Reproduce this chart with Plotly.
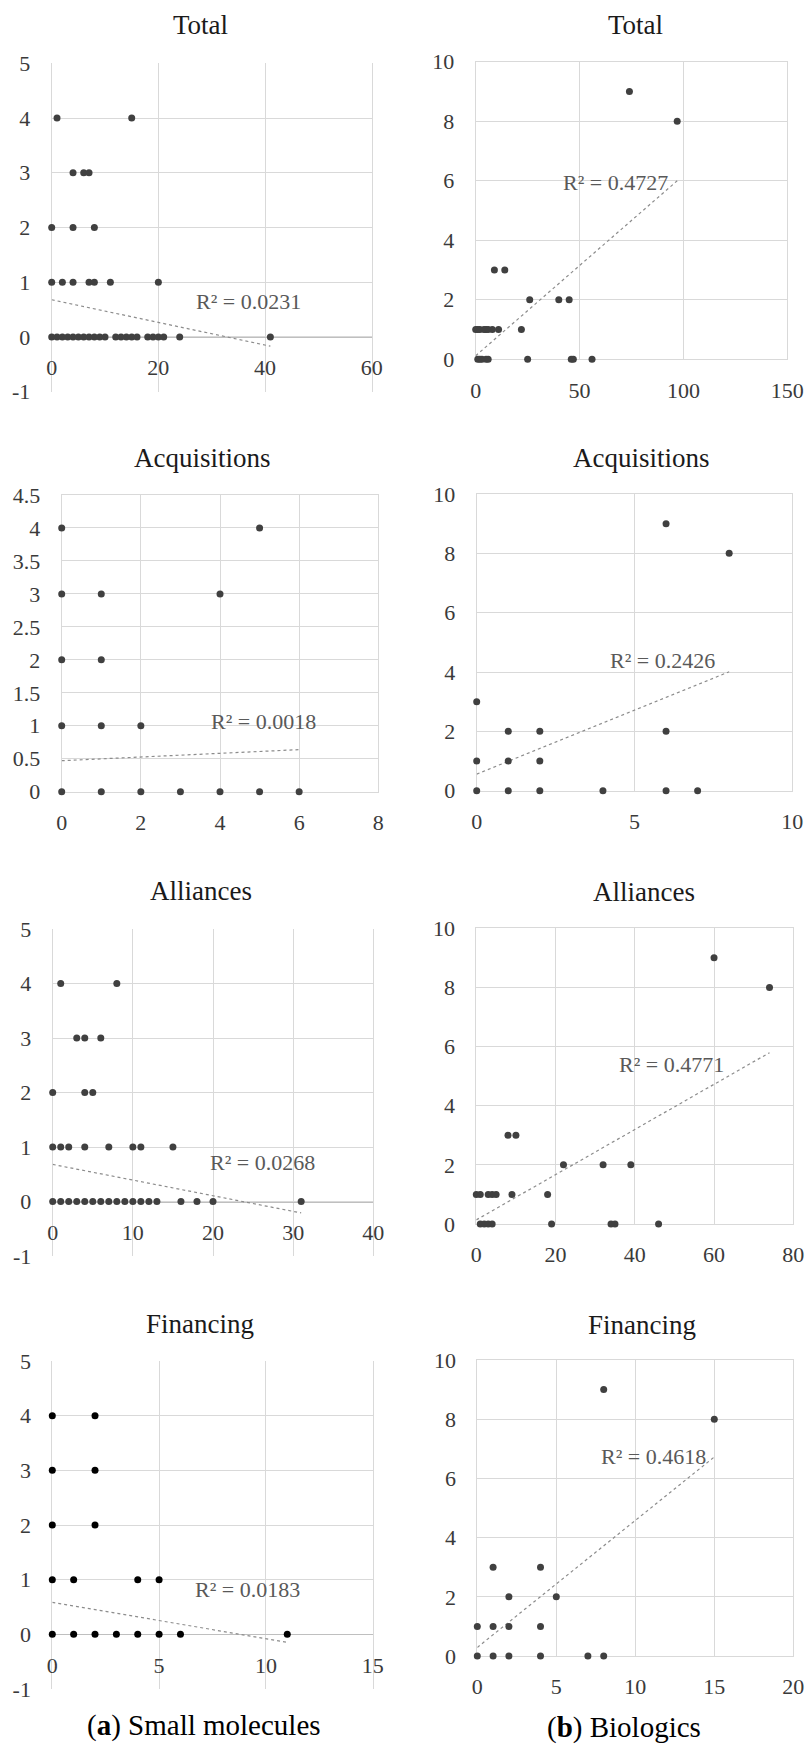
import plotly.graph_objects as go

W, H = 808, 1744

# ---------------- data ----------------
panel_titles = ["Total", "Total", "Acquisitions", "Acquisitions",
                "Alliances", "Alliances", "Financing", "Financing"]

sm_total_x = [1, 15, 4, 6, 7, 0, 4, 8, 0, 2, 4, 7, 8, 11, 20,
              0, 1, 2, 3, 4, 5, 6, 7, 8, 9, 10, 12, 13, 14, 15, 16, 18, 19, 20, 21, 24, 41]
sm_total_y = [4, 4, 3, 3, 3, 2, 2, 2, 1, 1, 1, 1, 1, 1, 1,
              0, 0, 0, 0, 0, 0, 0, 0, 0, 0, 0, 0, 0, 0, 0, 0, 0, 0, 0, 0, 0, 0]

bio_total_x = [74, 97, 9, 14, 26, 40, 45, 0, 1, 2, 4, 5, 6, 8, 11, 22,
               1, 2, 3, 5, 6, 25, 46, 47, 56]
bio_total_y = [9, 8, 3, 3, 2, 2, 2, 1, 1, 1, 1, 1, 1, 1, 1, 1,
               0, 0, 0, 0, 0, 0, 0, 0, 0]

sm_acq_x = [0, 5, 0, 1, 4, 0, 1, 0, 1, 2, 0, 1, 2, 3, 4, 5, 6]
sm_acq_y = [4, 4, 3, 3, 3, 2, 2, 1, 1, 1, 0, 0, 0, 0, 0, 0, 0]

bio_acq_x = [6, 8, 0, 1, 2, 6, 0, 1, 2, 0, 1, 2, 4, 6, 7]
bio_acq_y = [9, 8, 3, 2, 2, 2, 1, 1, 1, 0, 0, 0, 0, 0, 0]

sm_all_x = [1, 8, 3, 4, 6, 0, 4, 5, 0, 1, 2, 4, 7, 10, 11, 15,
            0, 1, 2, 3, 4, 5, 6, 7, 8, 9, 10, 11, 12, 13, 16, 18, 20, 31]
sm_all_y = [4, 4, 3, 3, 3, 2, 2, 2, 1, 1, 1, 1, 1, 1, 1, 1,
            0, 0, 0, 0, 0, 0, 0, 0, 0, 0, 0, 0, 0, 0, 0, 0, 0, 0]

bio_all_x = [60, 74, 8, 10, 22, 32, 39, 0, 1, 3, 4, 5, 9, 18,
             1, 2, 3, 4, 19, 34, 35, 46]
bio_all_y = [9, 8, 3, 3, 2, 2, 2, 1, 1, 1, 1, 1, 1, 1,
             0, 0, 0, 0, 0, 0, 0, 0]

sm_fin_x = [0, 2, 0, 2, 0, 2, 0, 1, 4, 5, 0, 1, 2, 3, 4, 5, 6, 11]
sm_fin_y = [4, 4, 3, 3, 2, 2, 1, 1, 1, 1, 0, 0, 0, 0, 0, 0, 0, 0]

bio_fin_x = [8, 15, 1, 4, 2, 5, 0, 1, 2, 4, 0, 1, 2, 4, 7, 8]
bio_fin_y = [9, 8, 3, 3, 2, 2, 1, 1, 1, 1, 0, 0, 0, 0, 0, 0]

# linear trend lines (intercept, slope, last x) and R² texts
trend_intercept = [0.68, 0.12, 0.47, 0.56, 0.68, 0.14, 0.585, 0.29]
trend_slope = [-0.0207, 0.0606, 0.028, 0.431, -0.0287, 0.0764, -0.0665, 0.429]
trend_xmax = [41, 97, 6, 8, 31, 74, 11, 15]
r2_texts = ["R² = 0.0231", "R² = 0.4727", "R² = 0.0018", "R² = 0.2426",
            "R² = 0.0268", "R² = 0.4771", "R² = 0.0183", "R² = 0.4618"]
r2_pos_x = [36.9, 67.4, 5.09, 5.88, 26.15, 49.3, 9.13, 11.14]
r2_pos_y = [0.64, 5.93, 1.06, 4.38, 0.71, 5.41, 0.82, 6.73]

x_ranges = [[0, 60], [0, 150], [0, 8], [0, 10], [0, 40], [0, 80], [0, 15], [0, 20]]
x_dticks = [20, 50, 2, 5, 10, 20, 5, 5]
y_ranges = [[-1, 5], [0, 10], [0, 4.5], [0, 10], [-1, 5], [0, 10], [-1, 5], [0, 10]]
y_dticks = [1, 2, 0.5, 2, 1, 2, 1, 2]

captions = ["(<b>a</b>) Small molecules", "(<b>b</b>) Biologics"]

series_x = [sm_total_x, bio_total_x, sm_acq_x, bio_acq_x, sm_all_x, bio_all_x, sm_fin_x, bio_fin_x]
series_y = [sm_total_y, bio_total_y, sm_acq_y, bio_acq_y, sm_all_y, bio_all_y, sm_fin_y, bio_fin_y]

# ---------------- layout (pixels) ----------------
plot_px = [  # left, right, top, bottom
    (51.7, 371.7, 63.3, 391.7),
    (475.7, 787.3, 61.7, 359.3),
    (61.7, 378.3, 495.0, 791.7),
    (476.7, 792.3, 494.0, 790.7),
    (52.7, 373.3, 929.0, 1256.0),
    (476.3, 793.3, 928.3, 1224.0),
    (52.3, 372.7, 1361.0, 1689.0),
    (477.3, 793.3, 1360.0, 1656.0),
]
title_px = [(200, 25), (635, 25), (202, 458), (641, 458),
            (201, 891), (644, 892), (200, 1324), (642, 1325)]
caption_px = [(204, 1725), (624, 1727)]
marker_colors = ["#404040"] * 6 + ["#000000", "#404040"]

FONT = "Liberation Serif"
GRID = "#d9d9d9"
TICKCOL = "#3a3a3a"


def tick_list(rng, step):
    vals = []
    k = 0
    while rng[0] + k * step <= rng[1] + 1e-9:
        vals.append(round(rng[0] + k * step, 6))
        k += 1
    return vals


fig = go.Figure()
layout = dict(template="none", width=W, height=H, margin=dict(l=0, r=0, t=0, b=0),
              paper_bgcolor="white", plot_bgcolor="white", showlegend=False,
              font=dict(family=FONT, size=22, color=TICKCOL))
annotations = []

for i in range(8):
    n = i + 1
    xa = "x" if n == 1 else f"x{n}"
    ya = "y" if n == 1 else f"y{n}"
    L, R, T, B = plot_px[i]
    xd = [L / W, R / W]
    yd = [1 - B / H, 1 - T / H]

    tx = [0, trend_xmax[i]]
    ty = [trend_intercept[i] + trend_slope[i] * v for v in tx]
    fig.add_trace(go.Scatter(x=tx, y=ty, mode="lines",
                             line=dict(color="#8c8c8c", width=1.2, dash="dot"),
                             cliponaxis=False, xaxis=xa, yaxis=ya))
    fig.add_trace(go.Scatter(x=series_x[i], y=series_y[i], mode="markers",
                             marker=dict(size=7, color=marker_colors[i]),
                             cliponaxis=False, xaxis=xa, yaxis=ya))

    yr = y_ranges[i]
    yt = tick_list(yr, y_dticks[i])
    xaxis = dict(domain=xd, range=x_ranges[i], dtick=x_dticks[i], tick0=0,
                 tickmode="linear", automargin=False, layer="below traces",
                 showgrid=True, gridcolor=GRID, gridwidth=1, zeroline=False,
                 ticks="", ticklabelstandoff=11,
                 tickfont=dict(family=FONT, size=22, color=TICKCOL))
    if yr[0] < 0:
        frac = (0 - yr[0]) / (yr[1] - yr[0])
        xaxis.update(anchor="free", position=yd[0] + (yd[1] - yd[0]) * frac,
                     showline=True, linecolor="#bfbfbf", linewidth=1)
    else:
        xaxis.update(anchor=ya, showline=True, mirror=True, linecolor=GRID, linewidth=1)
    yaxis = dict(domain=yd, range=yr, tickmode="array", tickvals=yt,
                 ticktext=["%g" % v for v in yt], anchor=xa, automargin=False,
                 layer="below traces",
                 showgrid=True, gridcolor=GRID, gridwidth=1, zeroline=False,
                 showline=True, mirror=True, linecolor=GRID, linewidth=1,
                 ticks="", ticklabelstandoff=16,
                 tickfont=dict(family=FONT, size=22, color=TICKCOL))
    layout["xaxis" if n == 1 else f"xaxis{n}"] = xaxis
    layout["yaxis" if n == 1 else f"yaxis{n}"] = yaxis

    annotations.append(dict(x=r2_pos_x[i], y=r2_pos_y[i], xref=xa, yref=ya,
                            text=r2_texts[i], showarrow=False,
                            font=dict(family=FONT, size=22, color="#595959"),
                            xanchor="center", yanchor="middle"))
    tx_, ty_ = title_px[i]
    annotations.append(dict(x=tx_ / W, y=1 - ty_ / H, xref="paper", yref="paper",
                            text=panel_titles[i], showarrow=False,
                            font=dict(family=FONT, size=27, color="#1a1a1a"),
                            xanchor="center", yanchor="middle"))

for j in range(2):
    cx, cy = caption_px[j]
    annotations.append(dict(x=cx / W, y=1 - cy / H, xref="paper", yref="paper",
                            text=captions[j], showarrow=False,
                            font=dict(family=FONT, size=29, color="#000000"),
                            xanchor="center", yanchor="middle"))

layout["annotations"] = annotations
fig.update_layout(**layout)
fig.write_html("out.html", config={"displayModeBar": False},
               post_script="document.body.style.margin='0px';"
                           "document.body.style.overflow='hidden';")
